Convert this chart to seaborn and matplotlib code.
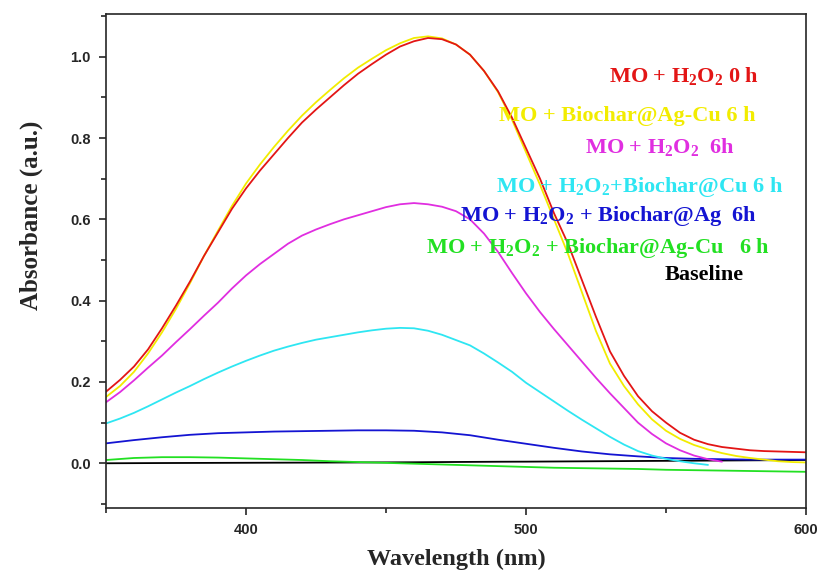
import numpy as np
import pandas as pd
import matplotlib
matplotlib.use("Agg")
import matplotlib.pyplot as plt
import seaborn as sns
from matplotlib.ticker import MultipleLocator

sns.set_style("ticks")
plt.rcParams["font.family"] = ["Liberation Sans", "DejaVu Sans"]
plt.rcParams["mathtext.fontset"] = "custom"
plt.rcParams["mathtext.rm"] = "Liberation Serif:bold"
plt.rcParams["mathtext.bf"] = "Liberation Serif:bold"
plt.rcParams["mathtext.default"] = "rm"

nan = np.nan
# ---- data ----
wl_fine = [350, 355, 360, 365, 370, 375, 380, 385, 390, 395, 400, 405, 410, 415, 420, 425, 430,
           435, 440, 445, 450, 455, 460, 465, 470, 475, 480, 485, 490, 495, 500, 505, 510, 515,
           520, 525, 530, 535, 540, 545, 550, 555, 560, 565, 570, 575, 580, 585, 590, 595, 600]
red = [0.176, 0.205, 0.238, 0.28, 0.332, 0.388, 0.447, 0.51, 0.568, 0.626, 0.676, 0.72, 0.76, 0.80,
       0.838, 0.87, 0.90, 0.93, 0.958, 0.982, 1.005, 1.025, 1.038, 1.046, 1.043, 1.03, 1.005, 0.965,
       0.915, 0.85, 0.775, 0.70, 0.615, 0.54, 0.45, 0.36, 0.275, 0.215, 0.165, 0.128, 0.10, 0.075,
       0.058, 0.047, 0.04, 0.036, 0.032, 0.030, 0.029, 0.028, 0.027]
yellow = [0.163, 0.19, 0.225, 0.27, 0.322, 0.38, 0.443, 0.51, 0.572, 0.633, 0.688, 0.735, 0.778, 0.818,
          0.855, 0.888, 0.918, 0.947, 0.973, 0.995, 1.016, 1.033, 1.046, 1.05, 1.045, 1.03, 1.005, 0.965,
          0.913, 0.845, 0.765, 0.685, 0.60, 0.515, 0.42, 0.325, 0.245, 0.19, 0.145, 0.108, 0.08, 0.06,
          0.045, 0.034, 0.025, 0.018, 0.013, 0.009, 0.005, 0.003, 0.002]
magenta = [0.15, 0.175, 0.204, 0.235, 0.265, 0.298, 0.33, 0.363, 0.395, 0.43, 0.462, 0.49, 0.515, 0.54,
           0.56, 0.575, 0.588, 0.60, 0.61, 0.62, 0.63, 0.637, 0.64, 0.637, 0.631, 0.62, 0.60, 0.565,
           0.52, 0.468, 0.418, 0.372, 0.33, 0.29, 0.25, 0.21, 0.172, 0.136, 0.10, 0.072, 0.049, 0.032,
           0.019, 0.01, 0.004, nan, nan, nan, nan, nan, nan]
cyan = [0.098, 0.11, 0.124, 0.14, 0.157, 0.174, 0.19, 0.207, 0.223, 0.238, 0.252, 0.265, 0.277, 0.287,
        0.296, 0.304, 0.31, 0.316, 0.322, 0.327, 0.331, 0.333, 0.332, 0.326, 0.316, 0.303, 0.29, 0.27,
        0.248, 0.225, 0.198, 0.175, 0.152, 0.129, 0.107, 0.086, 0.065, 0.046, 0.03, 0.019, 0.011, 0.005,
        0.0, -0.004, nan, nan, nan, nan, nan, nan, nan]

wl_coarse = [350, 360, 370, 380, 390, 400, 410, 420, 430, 440, 450, 460, 470, 480, 490, 500,
             510, 520, 530, 540, 550, 560, 570, 580, 590, 600]
blue = [0.049, 0.057, 0.064, 0.07, 0.074, 0.076, 0.078, 0.079, 0.08, 0.081, 0.081, 0.08, 0.076,
        0.069, 0.058, 0.048, 0.038, 0.029, 0.022, 0.017, 0.013, 0.011, 0.01, 0.009, 0.009, 0.009]
green = [0.008, 0.013, 0.015, 0.015, 0.014, 0.012, 0.01, 0.008, 0.005, 0.003, 0.001, -0.001, -0.003,
         -0.005, -0.007, -0.009, -0.011, -0.012, -0.013, -0.014, -0.016, -0.017, -0.018, -0.019, -0.020, -0.021]
baseline = [0.0, 0.0003, 0.0006, 0.0008, 0.001, 0.0012, 0.0014, 0.0016, 0.0018, 0.002, 0.0022, 0.0025,
            0.003, 0.0034, 0.0038, 0.004, 0.0044, 0.0048, 0.0052, 0.0056, 0.006, 0.0064, 0.0068, 0.0072,
            0.0076, 0.008]

series_names = ["MO + H$_2$O$_2$ 0 h",
                "MO + Biochar@Ag-Cu 6 h",
                "MO + H$_2$O$_2$  6h",
                "MO + H$_2$O$_2$+Biochar@Cu 6 h",
                "MO + H$_2$O$_2$ + Biochar@Ag  6h",
                "MO + H$_2$O$_2$ + Biochar@Ag-Cu   6 h",
                "Baseline"]
series_values = [red, yellow, magenta, cyan, blue, green, baseline]
series_wl = [wl_fine, wl_fine, wl_fine, wl_fine, wl_coarse, wl_coarse, wl_coarse]
colors = ["#e31515", "#f2ec00", "#e02ee0", "#2ee6f2", "#1414d2", "#22e022", "#000000"]

x_ticks = [400, 500, 600]
y_ticks = [0.0, 0.2, 0.4, 0.6, 0.8, 1.0]

# label placement (data coords, baseline)
label_x = [556.4, 536.3, 547.9, 540.4, 529.3, 525.7, 563.7]
label_y = [0.938, 0.842, 0.764, 0.667, 0.596, 0.517, 0.451]

rows = []
for name, wls, vals in zip(series_names, series_wl, series_values):
    for w, v in zip(wls, vals):
        rows.append({"Wavelength": w, "Absorbance": v, "Sample": name})
df = pd.DataFrame(rows).dropna()

fig = plt.figure(figsize=(8.17, 5.76), dpi=100)
ax = fig.add_axes([106 / 817, 68 / 576, 700 / 817, 494 / 576])

# draw baseline first so coloured curves sit over it
for name in series_names[::-1]:
    i = series_names.index(name)
    sns.lineplot(data=df[df["Sample"] == name], x="Wavelength", y="Absorbance",
                 color=colors[i], lw=1.3, ax=ax, legend=False, sort=True)

for name, c, lx, ly in zip(series_names, colors, label_x, label_y):
    ax.text(lx, ly, name, color=c, fontsize=16, fontweight="bold",
            family=["Liberation Serif"], ha="center", va="baseline")

ax.set_xlim(350, 600)
ax.set_ylim(-0.11, 1.105)
ax.set_xticks(x_ticks)
ax.set_yticks(y_ticks)
ax.set_yticklabels([f"{t:.1f}" for t in y_ticks])
ax.xaxis.set_minor_locator(MultipleLocator(50))
ax.yaxis.set_minor_locator(MultipleLocator(0.1))
ax.tick_params(which="major", direction="out", length=5, width=1.2, labelsize=10.5, pad=6)
ax.tick_params(which="minor", direction="out", length=3.5, width=1.2)
for lab in ax.get_xticklabels() + ax.get_yticklabels():
    lab.set_fontweight("bold")
for s in ax.spines.values():
    s.set_linewidth(1.2)
    s.set_visible(True)

ax.set_xlabel("Wavelength (nm)", fontsize=17.5, fontweight="bold", family=["Liberation Serif"])
ax.set_ylabel("Absorbance (a.u.)", fontsize=18, fontweight="bold", family=["Liberation Serif"])
ax.xaxis.set_label_coords(0.5, -0.082)
ax.yaxis.set_label_coords(-0.09, 0.593)

fig.savefig("out.png", dpi=100)
